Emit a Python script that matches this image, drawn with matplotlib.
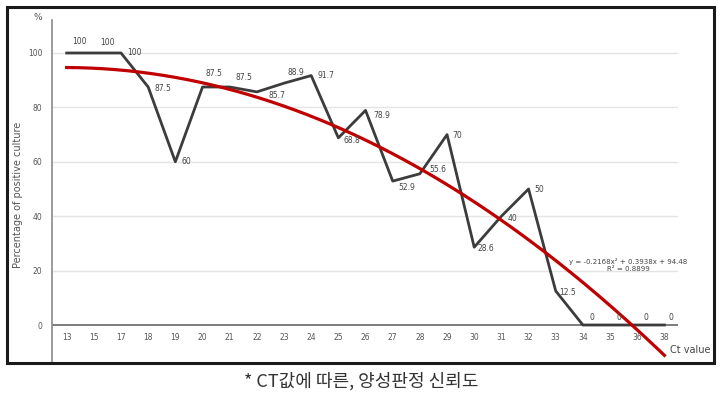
import matplotlib.pyplot as plt
import numpy as np

# dados
ct_labels = ['13', '15', '17', '18', '19', '20', '21', '22', '23', '24', '25', '26',
             '27', '28', '29', '30', '31', '32', '33', '34', '35', '36', '38']
positivos = [100, 100, 100, 87.5, 60, 87.5, 87.5, 85.7, 88.9, 91.7, 68.8, 78.9,
             52.9, 55.6, 70, 28.6, 40, 50, 12.5, 0, 0, 0, 0]
rotulos = ['100', '100', '100', '87.5', '60', '87.5', '87.5', '85.7', '88.9', '91.7',
           '68.8', '78.9', '52.9', '55.6', '70', '28.6', '40', '50', '12.5',
           '0', '0', '0', '0']
# coeficientes da linha de tendência (x = 1..n)
coef = [-0.2168, 0.3938, 94.48]
equacao = 'y = -0.2168x² + 0.3938x + 94.48'
r2_texto = 'R² = 0.8899'
legenda = '* CT값에 따른, 양성판정 신뢰도'

# deslocamento dos rótulos (px, px)
offsets = [(13, 11), (14, 10), (13, 0), (15, -2), (11, 0), (11, 13), (14, 9), (20, -4),
           (12, 11), (15, 0), (14, -3), (16, -5), (14, -6), (18, 4), (10, -1), (12, -1),
           (11, -2), (11, -1), (12, -2), (9, 8), (9, 8), (9, 8), (7, 8)]

fig = plt.figure(figsize=(7.23, 3.99), dpi=100)
ax = fig.add_axes([52 / 723, 1 - 363 / 399, (678 - 52) / 723, (363 - 20) / 399])

x = np.arange(len(ct_labels))
ax.set_xlim(-0.54, 22.5)
ax.set_ylim(-13.97, 112.13)

for v in [20, 40, 60, 80, 100]:
    ax.axhline(v, color='#e4e4e4', lw=1, zorder=0)
ax.axhline(0, color='#666666', lw=1.2, zorder=1)

ax.plot(x, positivos, color='#3c3c3c', lw=2, zorder=3)

xs = np.linspace(1, len(ct_labels), 200)
ys = np.polyval(coef, xs)
ax.plot(xs - 1, ys, color='#c00000', lw=2.3, zorder=4)

for i, (v, t) in enumerate(zip(positivos, rotulos)):
    dx, dy = offsets[i]
    ax.annotate(t, (x[i], v), xytext=(dx * 0.72, dy * 0.72), textcoords='offset points',
                ha='center', va='center', fontsize=5.5, color='#444444', zorder=5)

ax.text(628 / 723, 1 - 265 / 399, equacao + '\n' + r2_texto, transform=fig.transFigure,
        ha='center', va='center', fontsize=5, color='#444444', linespacing=1.3)

ax.set_xticks(x)
ax.set_xticklabels(ct_labels)
ax.set_yticks([0, 20, 40, 60, 80, 100])
ax.tick_params(axis='both', length=0, labelsize=5.5, labelcolor='#555555')
ax.tick_params(axis='y', pad=7)
ax.xaxis.set_tick_params(pad=-21.5)

for s in ['top', 'right', 'bottom']:
    ax.spines[s].set_visible(False)
ax.spines['left'].set_color('#8a8a8a')
ax.spines['left'].set_linewidth(1.2)

# rótulos dos eixos
fig.text(38 / 723, 1 - 18 / 399, '%', ha='center', va='center', fontsize=6.5, color='#555555')
fig.text(18 / 723, 1 - 195 / 399, 'Percentage of positive culture', rotation=90,
         ha='center', va='center', fontsize=7, color='#555555')
fig.text(690 / 723, 1 - 350 / 399, 'Ct value', ha='center', va='center', fontsize=7,
         color='#444444')

# moldura
moldura = plt.Rectangle((7 / 723, 1 - 363 / 399), (714 - 7) / 723, (363 - 7) / 399,
                        transform=fig.transFigure, fill=False, ec='#1a1a1a', lw=2.2)
fig.add_artist(moldura)

fig.text(361 / 723, 1 - 381 / 399, legenda, ha='center', va='center', fontsize=13,
         color='#333333', family=['Noto Sans CJK KR', 'DejaVu Sans'])

fig.savefig('out.png', dpi=100)
